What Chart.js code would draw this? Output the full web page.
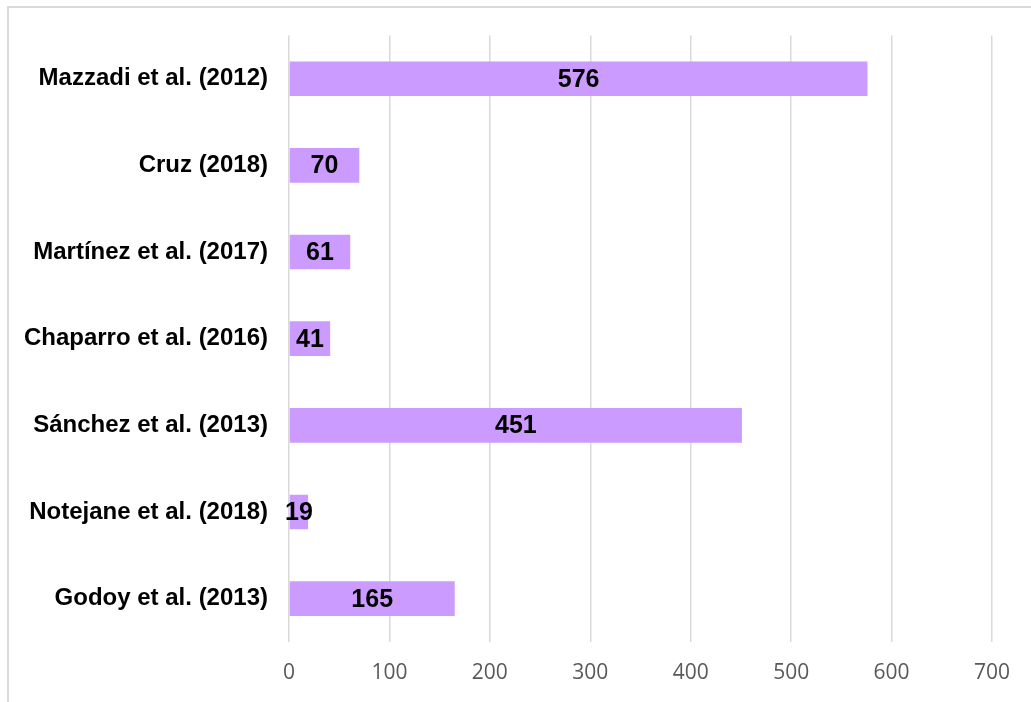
<!DOCTYPE html>
<html>
<head>
<meta charset="utf-8">
<script src="https://cdn.jsdelivr.net/npm/chart.js@4/dist/chart.umd.min.js"></script>
<style>
  html, body { margin: 0; padding: 0; background: #fff; }
  #wrap { position: relative; width: 1031px; height: 702px; overflow: hidden; }
  #frame {
    position: absolute; left: 7px; top: 6px; width: 1100px; height: 800px;
    border-top: 2px solid #d9d9d9; border-left: 2px solid #d9d9d9;
    box-sizing: border-box;
  }
  canvas { position: absolute; left: 0; top: 0; }
</style>
</head>
<body>
<div id="wrap">
  <div id="frame"></div>
  <canvas id="chart" width="1031" height="702"></canvas>
</div>
<script>
const studies = [
    "Mazzadi et al. (2012)",
    "Cruz (2018)",
    "Martínez et al. (2017)",
    "Chaparro et al. (2016)",
    "Sánchez et al. (2013)",
    "Notejane et al. (2018)",
    "Godoy et al. (2013)",
];
const counts = [576, 70, 61, 41, 451, 19, 165];
const axisMin = 0;
const axisMax = 700;
const axisStep = 100;

// value written in the middle of each bar
const barValueLabels = {
    id: "barValueLabels",
    afterDatasetsDraw(chart) {
        const ctx = chart.ctx;
        const meta = chart.getDatasetMeta(0);
        ctx.save();
        ctx.font = "bold 25px 'Liberation Sans', Arial, sans-serif";
        ctx.fillStyle = "#000";
        ctx.textAlign = "center";
        ctx.textBaseline = "middle";
        meta.data.forEach((bar, i) => {
            const cx = (bar.x + bar.base) / 2;
            ctx.fillText(String(counts[i]), cx, bar.y + 1);
        });
        ctx.restore();
    }
};

const ctx = document.getElementById("chart").getContext("2d");
new Chart(ctx, {
    type: "bar",
    data: {
        labels: studies,
        datasets: [{
            data: counts,
            backgroundColor: "#cc9bff",
            borderWidth: 0,
            barPercentage: 0.4,
            categoryPercentage: 1,
        }],
    },
    options: {
        indexAxis: "y",
        responsive: false,
        animation: false,
        layout: { padding: { top: 35, right: 39, left: 0, bottom: 0 } },
        plugins: {
            legend: { display: false },
            tooltip: { enabled: false },
        },
        scales: {
            x: {
                min: axisMin,
                max: axisMax,
                ticks: {
                    stepSize: axisStep,
                    color: "#595959",
                    padding: 18,
                    font: { family: "'Open Sans', sans-serif", size: 21 },
                },
                grid: { color: "#d9d9d9", lineWidth: 1.5, drawTicks: false },
                border: { display: false },
                afterFit(scale) { scale.height = 60; },
            },
            y: {
                ticks: {
                    color: "#000",
                    padding: 21,
                    font: { family: "'Liberation Sans', Arial, sans-serif", size: 24, weight: "bold" },
                },
                grid: { display: false, drawTicks: false },
                border: { display: false },
                afterFit(scale) { scale.width = 289; },
            },
        },
    },
    plugins: [barValueLabels],
});
</script>
</body>
</html>
